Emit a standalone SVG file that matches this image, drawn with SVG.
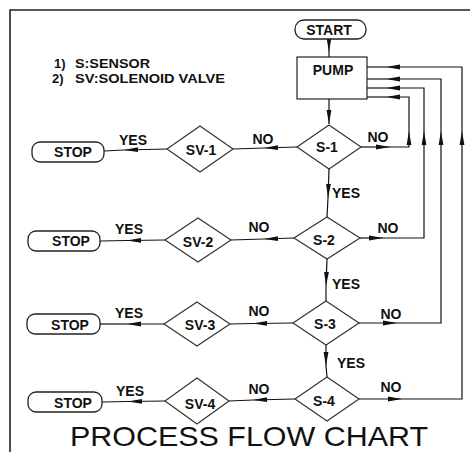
<svg xmlns="http://www.w3.org/2000/svg" width="470" height="452" viewBox="0 0 470 452">
<defs>
<style>
.bg{fill:#fff}
.frame{stroke:#222;stroke-width:1.6;fill:none}
.shape{fill:#fff;stroke:#333;stroke-width:1.2}
.term{fill:#fff;stroke:#222;stroke-width:1.3}
.c{fill:none;stroke:#111;stroke-width:1.2}
.ca{fill:none;stroke:#111;stroke-width:1.2;marker-end:url(#ah)}
text{font-family:"Liberation Sans",Arial,sans-serif;fill:#111}
.t{font-size:14px;font-weight:bold;text-anchor:middle}
.l{font-size:14px;font-weight:bold}
.lg{font-size:13px;font-weight:bold}
.title{font-size:28px}
</style>
<marker id="ah" viewBox="0 0 14 6" refX="14" refY="3" markerWidth="14" markerHeight="6" markerUnits="userSpaceOnUse" orient="auto">
<path d="M0,0.6 L14,3 L0,5.4 z" fill="#111"/>
</marker>
</defs>
<rect class="bg" x="0" y="0" width="470" height="452"/>
<path class="frame" d="M10,452 L10,10 L470,10"/>

<g id="legend">
<text class="lg" x="54" y="68">1)</text>
<text class="lg" x="75" y="68" textLength="75" lengthAdjust="spacingAndGlyphs">S:SENSOR</text>
<text class="lg" x="52" y="83">2)</text>
<text class="lg" x="75" y="83" textLength="150" lengthAdjust="spacingAndGlyphs">SV:SOLENOID VALVE</text>
</g>

<g id="connectors">
<path class="ca" d="M329,39 L329,52"/><path class="c" d="M329,52 L329,57"/>
<path class="ca" d="M329,99 L329,124"/>
<path class="ca" d="M329,169 L328,198"/><path class="c" d="M328,198 L327,217"/>
<path class="ca" d="M327,259 L326,286"/><path class="c" d="M326,286 L326,301"/>
<path class="ca" d="M326,345 L326,366"/><path class="c" d="M326,366 L327,377"/>

<path class="ca" d="M297,147 L264,148"/><path class="c" d="M264,148 L233,149"/>
<path class="ca" d="M167,149 L124,150"/><path class="c" d="M124,150 L104,151"/>
<path class="ca" d="M294,238 L264,239"/><path class="c" d="M264,239 L231,240"/>
<path class="ca" d="M165,240 L127,240.5"/><path class="c" d="M127,240.5 L100,241"/>
<path class="ca" d="M293,323 L253,323.5"/><path class="c" d="M253,323.5 L230,324"/>
<path class="ca" d="M164,324 L127,324"/><path class="c" d="M127,324 L100,324"/>
<path class="ca" d="M295,399 L253,400"/><path class="c" d="M253,400 L229,401"/>
<path class="ca" d="M165,401 L128,401.5"/><path class="c" d="M128,401.5 L102,402"/>

<path class="ca" d="M361,147 L390,147"/><path class="ca" d="M390,147 L409,147 L409,131"/><path class="ca" d="M409,131 L409,97 L386,97"/><path class="c" d="M386,97 L367,97"/>
<path class="ca" d="M360,238 L383,238"/><path class="ca" d="M383,238 L424,238 L424,131"/><path class="ca" d="M424,131 L424,88 L386,88"/><path class="c" d="M386,88 L367,88"/>
<path class="ca" d="M359,323 L397,323"/><path class="ca" d="M397,323 L441,323 L441,131"/><path class="ca" d="M441,131 L441,79 L386,79"/><path class="c" d="M386,79 L367,79"/>
<path class="ca" d="M359,399 L402,399"/><path class="ca" d="M402,399 L462,399 L462,131"/><path class="ca" d="M462,131 L462,67 L386,67"/><path class="c" d="M386,67 L367,67"/>

<text class="l" x="332" y="198">YES</text>
<text class="l" x="332" y="289">YES</text>
<text class="l" x="337" y="368">YES</text>
<text class="t" x="378" y="142">NO</text>
<text class="t" x="388" y="233">NO</text>
<text class="t" x="391" y="319">NO</text>
<text class="t" x="391" y="392">NO</text>
<text class="t" x="263" y="144">NO</text>
<text class="t" x="259" y="232">NO</text>
<text class="t" x="259" y="316">NO</text>
<text class="t" x="259" y="394">NO</text>
<text class="t" x="133" y="145">YES</text>
<text class="t" x="129" y="234">YES</text>
<text class="t" x="129" y="318">YES</text>
<text class="t" x="130" y="396">YES</text>
</g>

<g id="start"><rect class="term" x="295" y="20" width="71" height="19" rx="9"/><text class="t" x="329" y="35">START</text></g>
<g id="pump"><rect class="shape" x="297" y="57" width="70" height="42" style="stroke:#222"/><text class="t" x="333" y="75">PUMP</text></g>

<g id="s1"><polygon class="shape" points="329,125 361,147 329,169 297,147"/><text class="t" x="327" y="152">S-1</text></g>
<g id="s2"><polygon class="shape" points="327,217 360,238 327,259 294,238"/><text class="t" x="324" y="245">S-2</text></g>
<g id="s3"><polygon class="shape" points="326,301 359,323 326,345 293,323"/><text class="t" x="325" y="329">S-3</text></g>
<g id="s4"><polygon class="shape" points="327,377 359,399 327,421 295,399"/><text class="t" x="324" y="406">S-4</text></g>

<g id="sv1"><polygon class="shape" points="200,126 233,149 200,172 167,149"/><text class="t" x="201" y="155">SV-1</text></g>
<g id="sv2"><polygon class="shape" points="198,218 231,240 198,262 165,240"/><text class="t" x="198" y="247">SV-2</text></g>
<g id="sv3"><polygon class="shape" points="197,302 230,324 197,346 164,324"/><text class="t" x="200" y="330">SV-3</text></g>
<g id="sv4"><polygon class="shape" points="197,378 229,401 197,424 165,401"/><text class="t" x="200" y="409">SV-4</text></g>

<g id="stop1"><rect class="term" x="32" y="142" width="72" height="20" rx="8"/><text class="t" x="73" y="157">STOP</text></g>
<g id="stop2"><rect class="term" x="28" y="231" width="72" height="20" rx="8"/><text class="t" x="71" y="246">STOP</text></g>
<g id="stop3"><rect class="term" x="27" y="314" width="73" height="20" rx="8"/><text class="t" x="70" y="330">STOP</text></g>
<g id="stop4"><rect class="term" x="28" y="392" width="74" height="20" rx="8"/><text class="t" x="73" y="408">STOP</text></g>

<g id="title"><text class="title" x="70" y="446" textLength="358" lengthAdjust="spacingAndGlyphs">PROCESS FLOW CHART</text></g>
</svg>
